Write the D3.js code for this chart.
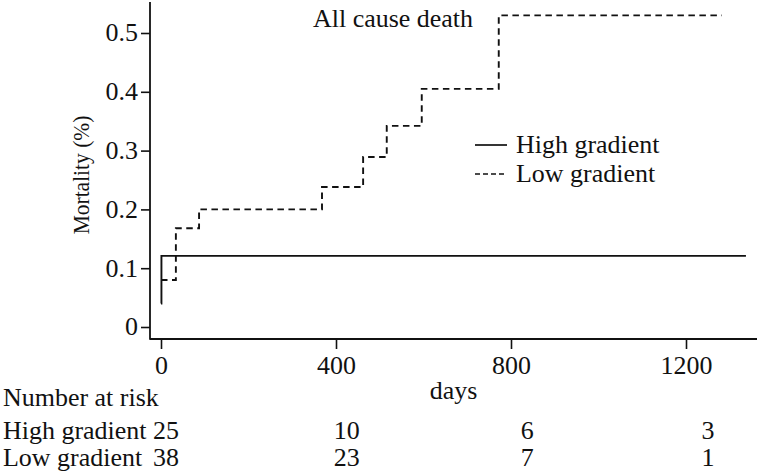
<!DOCTYPE html>
<html><head><meta charset="utf-8">
<script src="https://cdn.jsdelivr.net/npm/d3@7/dist/d3.min.js"></script>
<style>body{margin:0;background:#fff}svg{display:block}text{font-family:"Liberation Serif","Times New Roman",serif;fill:#111}</style>
</head><body><svg id="c" width="760" height="472"></svg>
<script>
const title = "All cause death";
const seriesNames = ["High gradient", "Low gradient"];
const highDays = [0, 1, 1337];
const highMort = [0.04, 0.121, 0.121];
const lowDays = [0, 34, 87, 368, 462, 516, 596, 772, 1282];
const lowMort = [0.08, 0.168, 0.2, 0.238, 0.289, 0.342, 0.405, 0.53, 0.53];
const xTicks = [0, 400, 800, 1200];
const yTicks = [0, 0.1, 0.2, 0.3, 0.4, 0.5];
const riskDays = [0, 400, 800, 1200];
const riskHigh = [25, 10, 6, 3];
const riskLow = [38, 23, 7, 1];

const SX = 1.06, FS = 24.5;
const svg = d3.select("#c");
const x = d3.scaleLinear().domain([0, 1200]).range([161, 686]);
const y = d3.scaleLinear().domain([0, 0.5]).range([327, 33]);
const tx = d3.scaleLinear().domain([0, 1200]).range([166, 708]);

function stretchText(sel){
  sel.each(function(){
    const t = d3.select(this);
    const xv = +t.attr("x") || 0;
    t.attr("x", xv / SX).attr("transform", `scale(${SX},1)`);
  });
}
function label(str, px, py, anchor){
  return svg.append("text").attr("transform", `translate(${px},${py}) scale(${SX},1)`)
    .attr("text-anchor", anchor || "start").style("font-size", FS + "px").text(str);
}

const axisLeftX = 150, axisBottomY = 339;
svg.append("line").attr("x1", axisLeftX).attr("x2", axisLeftX).attr("y1", 2).attr("y2", axisBottomY + 0.8)
  .attr("stroke", "#111").attr("stroke-width", 1.8);
svg.append("line").attr("x1", axisLeftX).attr("x2", 757).attr("y1", axisBottomY).attr("y2", axisBottomY)
  .attr("stroke", "#111").attr("stroke-width", 1.8);

const gy = svg.append("g").attr("transform", `translate(${axisLeftX},0)`)
  .call(d3.axisLeft(y).tickValues(yTicks).tickFormat(d => d === 0 ? "0" : d3.format(".1f")(d)).tickSize(9).tickPadding(3));
gy.select(".domain").remove();
gy.selectAll("line").attr("stroke", "#111").attr("stroke-width", 1.6);
gy.selectAll("text").style("font-size", FS + "px").style("font-family", '"Liberation Serif",serif').attr("fill", "#111").call(stretchText);

const gx = svg.append("g").attr("transform", `translate(0,${axisBottomY})`)
  .call(d3.axisBottom(x).tickValues(xTicks).tickFormat(d3.format("d")).tickSize(10).tickPadding(8));
gx.select(".domain").remove();
gx.selectAll("line").attr("stroke", "#111").attr("stroke-width", 1.6);
gx.selectAll("text").style("font-size", FS + "px").style("font-family", '"Liberation Serif",serif').attr("fill", "#111").call(stretchText);

svg.append("text").attr("transform", `translate(89,175) rotate(-90) scale(1,1.12)`)
  .attr("text-anchor", "middle").style("font-size", "21.5px").text("Mortality (%)");

const line = d3.line().x(d => x(d[0])).y(d => y(d[1])).curve(d3.curveStepAfter);
svg.append("path").datum(highDays.map((d, i) => [d, highMort[i]]))
  .attr("d", line).attr("fill", "none").attr("stroke", "#111").attr("stroke-width", 1.9);
svg.append("path").datum(lowDays.map((d, i) => [d, lowMort[i]]))
  .attr("d", line).attr("fill", "none").attr("stroke", "#111").attr("stroke-width", 1.9)
  .attr("stroke-dasharray", "6.5,4.5");

label(title, 313, 27);

const leg = [{name: seriesNames[0], dash: null, ly: 145, ty: 153}, {name: seriesNames[1], dash: "5,3", ly: 174, ty: 182}];
leg.forEach(l => {
  svg.append("line").attr("x1", 475).attr("x2", 507).attr("y1", l.ly).attr("y2", l.ly)
    .attr("stroke", "#111").attr("stroke-width", 1.7).attr("stroke-dasharray", l.dash);
  label(l.name, 516, l.ty);
});

label("days", (axisLeftX + 757) / 2, 399, "middle");

label("Number at risk", 3, 406);
label(seriesNames[0], 3, 439);
label(seriesNames[1], 3, 466);
riskDays.forEach((d, i) => {
  label(String(riskHigh[i]), tx(d), 439, "middle");
  label(String(riskLow[i]), tx(d), 466, "middle");
});
</script></body></html>
